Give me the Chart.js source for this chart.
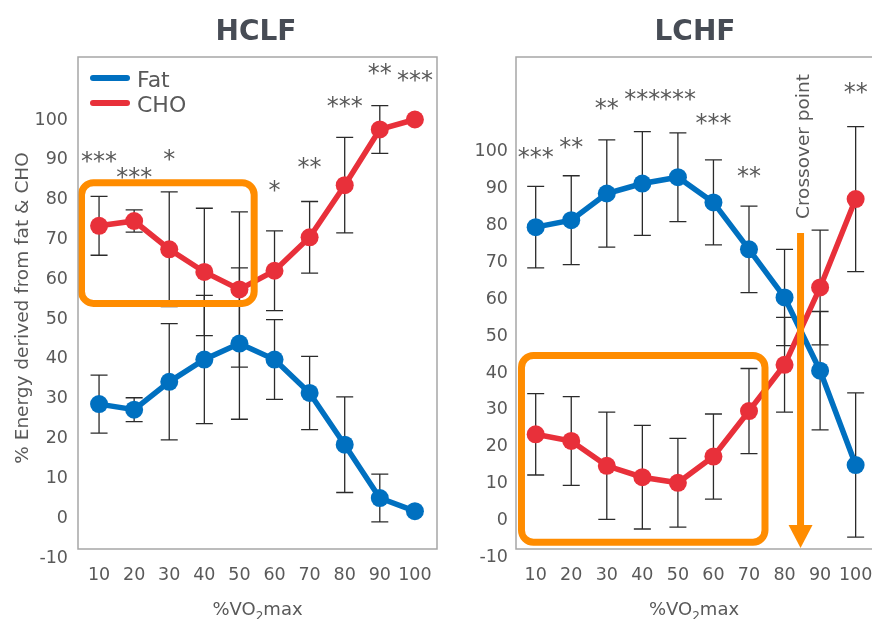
<!DOCTYPE html>
<html>
<head>
<meta charset="utf-8">
<script src="https://cdn.jsdelivr.net/npm/chart.js@4/dist/chart.umd.min.js"></script>
<style>
  html, body { margin: 0; padding: 0; background: #fff; }
  body { width: 872px; height: 619px; position: relative; overflow: hidden; }
  .panel { position: absolute; top: 0; height: 619px; }
  #left { left: 0; width: 440px; }
  #right { left: 440px; width: 432px; }
</style>
</head>
<body>
<div class="panel" id="left"><canvas id="hclf-chart"></canvas></div>
<div class="panel" id="right"><canvas id="lchf-chart"></canvas></div>
<script>
const FONT = "'DejaVu Sans', sans-serif";
const TEXT_GREY = '#595959';
const FAT_BLUE = '#0070C0';
const CHO_RED = '#E8303A';
const ORANGE = '#FF8C00';

// %VO2max levels and axis ticks
const xValues = [10, 20, 30, 40, 50, 60, 70, 80, 90, 100];
const yTicks = [-10, 0, 10, 20, 30, 40, 50, 60, 70, 80, 90, 100];

// HCLF
const hclfFat = [27.9, 26.5, 33.5, 39.1, 43.1, 39.1, 30.7, 17.7, 4.3, 1.0];
const hclfFatErr = [7.3, 3.0, 14.6, 16.1, 19.0, 10.0, 9.2, 12.0, 6.0, 0];
const hclfCho = [72.7, 73.9, 66.8, 61.1, 56.7, 61.4, 69.8, 82.9, 96.9, 99.4];
const hclfChoErr = [7.4, 2.8, 14.4, 16.0, 19.5, 10.0, 9.0, 12.0, 6.0, 0];
const hclfStars = ['***', '***', '*', '', '', '*', '**', '***', '**', '***'];
const hclfStarY = [90.0, 86.0, 90.5, 0, 0, 82.7, 88.5, 103.9, 112.2, 110.4];
const hclfBox = [5.0, 54.2, 53.2, 83.5]; // x from, x to, y from, y to

// LCHF
const lchfFat = [78.6, 80.5, 87.7, 90.4, 92.1, 85.3, 72.6, 59.6, 39.8, 14.3];
const lchfFatErr = [11.0, 12.0, 14.5, 14.0, 12.0, 11.5, 11.7, 13.0, 16.0, 19.5];
const lchfCho = [22.6, 20.8, 14.1, 11.0, 9.5, 16.6, 28.9, 41.4, 62.3, 86.2];
const lchfChoErr = [11.0, 12.0, 14.5, 14.0, 12.0, 11.5, 11.5, 12.8, 15.5, 19.6];
const lchfStars = ['***', '**', '**', '***', '***', '***', '**', '', '', '**'];
const lchfStarY = [98.6, 101.4, 111.9, 114.3, 114.3, 107.8, 93.5, 0, 0, 116.2];
const lchfBox = [6.0, 74.5, -6.6, 43.9];
const crossoverX = 84.5;
const crossoverArrow = [77, -8.1];
const crossoverLabelY = 100.4;

function toPoints(values) {
    return values.map((v, i) => ({ x: xValues[i], y: v }));
}

function makeDataset(label, values, errors, color) {
    return {
        label: label,
        data: toPoints(values),
        errors: errors,
        borderColor: color,
        backgroundColor: color,
        borderWidth: 5.5,
        pointRadius: 9,
        pointBorderWidth: 0,
        pointBackgroundColor: color,
        tension: 0
    };
}

function drawSubscriptTitle(ctx, cx, baseline) {
    const big = '18px ' + FONT;
    const small = '12px ' + FONT;
    ctx.font = big;
    const w1 = ctx.measureText('%VO').width;
    const w3 = ctx.measureText('max').width;
    ctx.font = small;
    const w2 = ctx.measureText('2').width;
    let x = cx - (w1 + w2 + w3) / 2;
    ctx.textAlign = 'left';
    ctx.textBaseline = 'alphabetic';
    ctx.font = big;
    ctx.fillText('%VO', x, baseline);
    ctx.font = small;
    ctx.fillText('2', x + w1, baseline + 5);
    ctx.font = big;
    ctx.fillText('max', x + w1 + w2, baseline);
}

const extrasPlugin = {
    id: 'extras',
    beforeDatasetsDraw(chart) {
        const ctx = chart.ctx;
        const xs = chart.scales.x, ys = chart.scales.y;
        ctx.save();
        ctx.strokeStyle = '#2b2b2b';
        ctx.lineWidth = 1.3;
        chart.data.datasets.forEach(ds => {
            ds.data.forEach((p, i) => {
                const e = ds.errors[i];
                if (!e) return;
                const x = xs.getPixelForValue(p.x);
                const top = ys.getPixelForValue(p.y + e);
                const bot = ys.getPixelForValue(p.y - e);
                ctx.beginPath();
                ctx.moveTo(x, top); ctx.lineTo(x, bot);
                ctx.moveTo(x - 8.5, top); ctx.lineTo(x + 8.5, top);
                ctx.moveTo(x - 8.5, bot); ctx.lineTo(x + 8.5, bot);
                ctx.stroke();
            });
        });
        ctx.restore();
    },
    afterDatasetsDraw(chart, args, opts) {
        const ctx = chart.ctx;
        const xs = chart.scales.x, ys = chart.scales.y;
        ctx.save();
        ctx.strokeStyle = ORANGE;
        ctx.lineWidth = 7;
        const b = opts.box;
        const x1 = xs.getPixelForValue(b[0]), x2 = xs.getPixelForValue(b[1]);
        const y1 = ys.getPixelForValue(b[3]), y2 = ys.getPixelForValue(b[2]);
        ctx.beginPath();
        ctx.roundRect(x1, y1, x2 - x1, y2 - y1, 12);
        ctx.stroke();
        if (opts.arrow) {
            const ax = xs.getPixelForValue(opts.arrow.x);
            const ay1 = ys.getPixelForValue(opts.arrow.from);
            const ay2 = ys.getPixelForValue(opts.arrow.to);
            ctx.beginPath();
            ctx.moveTo(ax, ay1);
            ctx.lineTo(ax, ay2 - 20);
            ctx.stroke();
            ctx.fillStyle = ORANGE;
            ctx.beginPath();
            ctx.moveTo(ax - 12, ay2 - 23);
            ctx.lineTo(ax + 12, ay2 - 23);
            ctx.lineTo(ax, ay2);
            ctx.closePath();
            ctx.fill();
        }
        ctx.restore();
    },
    afterDraw(chart, args, opts) {
        const ctx = chart.ctx;
        const area = chart.chartArea;
        const xs = chart.scales.x, ys = chart.scales.y;
        ctx.save();
        // plot frame
        ctx.strokeStyle = '#A6A6A6';
        ctx.lineWidth = 1.5;
        ctx.beginPath();
        if (opts.openRight) {
            ctx.moveTo(area.right + 2, area.top);
            ctx.lineTo(area.left, area.top);
            ctx.lineTo(area.left, area.bottom);
            ctx.lineTo(area.right + 2, area.bottom);
        } else {
            ctx.rect(area.left, area.top, area.right - area.left, area.bottom - area.top);
        }
        ctx.stroke();

        // panel title
        ctx.fillStyle = '#474C55';
        ctx.font = 'bold 28px ' + FONT;
        ctx.textAlign = 'center';
        ctx.textBaseline = 'alphabetic';
        ctx.fillText(opts.title, opts.titleX, 40);

        // significance stars
        ctx.fillStyle = TEXT_GREY;
        ctx.font = '24px ' + FONT;
        opts.stars.forEach((s, i) => {
            if (!s) return;
            const x = xs.getPixelForValue(xValues[i]);
            const y = ys.getPixelForValue(opts.starY[i]);
            ctx.fillText(s, x, y + 12);
        });

        // x axis title
        ctx.fillStyle = TEXT_GREY;
        drawSubscriptTitle(ctx, (area.left + area.right) / 2, 615);

        if (opts.yTitle) {
            ctx.save();
            ctx.translate(28, 308);
            ctx.rotate(-Math.PI / 2);
            ctx.font = '18.5px ' + FONT;
            ctx.textAlign = 'center';
            ctx.fillText(opts.yTitle, 0, 0);
            ctx.restore();
        }

        if (opts.legend) {
            ctx.lineCap = 'round';
            ctx.lineWidth = 6;
            ctx.font = '22px ' + FONT;
            ctx.textAlign = 'left';
            chart.data.datasets.forEach((ds, i) => {
                const ly = 78 + i * 25;
                ctx.strokeStyle = ds.borderColor;
                ctx.beginPath();
                ctx.moveTo(93, ly);
                ctx.lineTo(127, ly);
                ctx.stroke();
                ctx.fillStyle = TEXT_GREY;
                ctx.fillText(ds.label, 137, ly + 8.5);
            });
        }

        if (opts.crossover) {
            ctx.save();
            ctx.translate(xs.getPixelForValue(opts.crossover.x) + 8, ys.getPixelForValue(opts.crossover.labelY));
            ctx.rotate(-Math.PI / 2);
            ctx.fillStyle = TEXT_GREY;
            ctx.font = '18.5px ' + FONT;
            ctx.textAlign = 'center';
            ctx.fillText(opts.crossover.text, 0, 0);
            ctx.restore();
        }
        ctx.restore();
    }
};

function buildChart(canvasId, cfg) {
    const ctx = document.getElementById(canvasId).getContext('2d');
    return new Chart(ctx, {
        type: 'line',
        data: {
            datasets: [
                makeDataset('Fat', cfg.fat, cfg.fatErr, FAT_BLUE),
                makeDataset('CHO', cfg.cho, cfg.choErr, CHO_RED)
            ]
        },
        options: {
            responsive: true,
            maintainAspectRatio: false,
            animation: false,
            layout: { autoPadding: false, padding: { top: 57, right: cfg.padRight, left: 0, bottom: 0 } },
            plugins: {
                legend: { display: false },
                tooltip: { enabled: false },
                extras: cfg.extras
            },
            scales: {
                x: {
                    type: 'linear',
                    min: cfg.xMin,
                    max: cfg.xMax,
                    grid: { display: false, drawTicks: false },
                    border: { display: false },
                    afterBuildTicks: s => { s.ticks = xValues.map(v => ({ value: v })); },
                    afterFit: s => { s.height = 70; s.paddingLeft = 0; s.paddingRight = 0; },
                    ticks: { color: TEXT_GREY, font: { family: FONT, size: 17.5 }, padding: 16, maxRotation: 0, autoSkip: false }
                },
                y: {
                    type: 'linear',
                    min: cfg.yMin,
                    max: cfg.yMax,
                    grid: { display: false, drawTicks: false },
                    border: { display: false },
                    afterBuildTicks: s => { s.ticks = yTicks.map(v => ({ value: v })); },
                    afterFit: s => { s.width = cfg.yWidth; s.paddingTop = 0; s.paddingBottom = 0; },
                    ticks: { color: TEXT_GREY, font: { family: FONT, size: 17.5 }, padding: cfg.yPad, labelOffset: 3, autoSkip: false }
                }
            }
        },
        plugins: [extrasPlugin]
    });
}

buildChart('hclf-chart', {
    fat: hclfFat, fatErr: hclfFatErr, cho: hclfCho, choErr: hclfChoErr,
    xMin: 4.0, xMax: 106.3, yMin: -8.5, yMax: 115.1,
    yWidth: 78, yPad: 10, padRight: 3,
    extras: {
        title: 'HCLF', titleX: 256,
        stars: hclfStars, starY: hclfStarY,
        box: hclfBox,
        yTitle: '% Energy derived from fat & CHO',
        legend: true
    }
});

buildChart('lchf-chart', {
    fat: lchfFat, fatErr: lchfFatErr, cho: lchfCho, choErr: lchfChoErr,
    xMin: 4.46, xMax: 104.6, yMin: -8.4, yMax: 124.6,
    yWidth: 76, yPad: 8, padRight: 0,
    extras: {
        title: 'LCHF', titleX: 255,
        stars: lchfStars, starY: lchfStarY,
        box: lchfBox,
        openRight: true,
        arrow: { x: crossoverX, from: crossoverArrow[0], to: crossoverArrow[1] },
        crossover: { x: crossoverX, labelY: crossoverLabelY, text: 'Crossover point' }
    }
});
</script>
</body>
</html>
